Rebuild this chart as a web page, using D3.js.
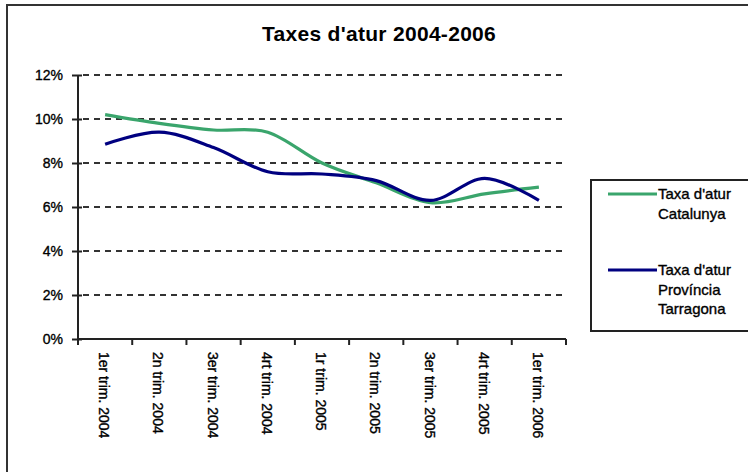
<!DOCTYPE html>
<html>
<head>
<meta charset="utf-8">
<script src="https://cdn.jsdelivr.net/npm/d3@7"></script>
<style>
  html, body { margin: 0; padding: 0; background: #fff; }
  svg { display: block; }
  text { font-family: "Liberation Sans", Arial, sans-serif; fill: #000; }
  text.lbl { stroke: #000; stroke-width: 0.35px; }
</style>
</head>
<body>
<svg id="chart" width="748" height="472"></svg>
<script>
const title = "Taxes d'atur 2004-2006";
const categories = ["1er trim. 2004", "2n trim. 2004", "3er trim. 2004", "4rt trim. 2004",
  "1r trim. 2005", "2n trim. 2005", "3er trim. 2005", "4rt trim. 2005", "1er trim. 2006"];
const catalunya = [10.2, 9.8, 9.5, 9.4, 8.0, 7.1, 6.2, 6.6, 6.9];
const tarragona = [8.85, 9.4, 8.7, 7.6, 7.5, 7.2, 6.3, 7.3, 6.3];
const yTicks = [0, 2, 4, 6, 8, 10, 12];
const seriesNames = [["Taxa d'atur", "Catalunya"], ["Taxa d'atur", "Província", "Tarragona"]];
const seriesColors = ["#3aa56c", "#000080"];

const svg = d3.select("#chart");

// outer frame
svg.append("rect").attr("x", 7).attr("y", 5).attr("width", 780).attr("height", 500)
  .attr("fill", "none").attr("stroke", "#333").attr("stroke-width", 2);

const x = d3.scaleBand().domain(categories).range([78, 566]).paddingInner(0).paddingOuter(0);
const y = d3.scaleLinear().domain([0, 12]).range([339, 75]);
const cx = d => x(d) + x.bandwidth() / 2;

// title
svg.append("text").attr("x", 379).attr("y", 41).attr("text-anchor", "middle")
  .style("font-size", "21px").style("font-weight", "bold").style("letter-spacing", "0.3px")
  .text(title);

// gridlines
svg.append("g").selectAll("line").data(yTicks.filter(t => t > 0)).join("line")
  .attr("x1", 83).attr("x2", 566)
  .attr("y1", d => y(d)).attr("y2", d => y(d))
  .attr("stroke", "#333").attr("stroke-width", 2).attr("stroke-dasharray", "6,5");

// y axis
const yAxis = d3.axisLeft(y).tickValues(yTicks).tickSize(0).tickFormat(d => d + "%");
const gy = svg.append("g").attr("transform", "translate(78,0)").call(yAxis);
gy.select(".domain").remove();
gy.selectAll("text").attr("x", -15).attr("dy", "0.35em").attr("class", "lbl")
  .style("font-size", "14px").style("font-family", "'Liberation Sans', Arial, sans-serif")
  .attr("fill", "#000");
gy.selectAll(".tick").append("line").attr("x1", -6).attr("x2", 4).attr("y1", 0).attr("y2", 0)
  .attr("stroke", "#222").attr("stroke-width", 2);
svg.append("line").attr("x1", 78).attr("x2", 78).attr("y1", 75).attr("y2", 340)
  .attr("stroke", "#222").attr("stroke-width", 2);

// x axis
svg.append("line").attr("x1", 77).attr("x2", 566).attr("y1", 339).attr("y2", 339)
  .attr("stroke", "#222").attr("stroke-width", 2);
const bounds = categories.map(c => x(c)).concat([x.range()[1]]);
svg.append("g").selectAll("line").data(bounds).join("line")
  .attr("x1", d => d).attr("x2", d => d).attr("y1", 339).attr("y2", 345)
  .attr("stroke", "#222").attr("stroke-width", 2);
svg.append("g").selectAll("text").data(categories).join("text")
  .attr("class", "lbl")
  .attr("transform", d => `translate(${cx(d) - 1},352) rotate(90)`)
  .attr("dy", "0.35em").attr("text-anchor", "start")
  .style("font-size", "14px")
  .text(d => d);

// lines
const line = d3.line().x((d, i) => cx(categories[i])).y(d => y(d)).curve(d3.curveCardinal.tension(0));
[catalunya, tarragona].forEach((s, i) => {
  svg.append("path").datum(s).attr("d", line).attr("fill", "none")
    .attr("stroke", seriesColors[i]).attr("stroke-width", 3.2).attr("stroke-linejoin", "round");
});

// legend
svg.append("rect").attr("x", 591).attr("y", 180).attr("width", 200).attr("height", 151)
  .attr("fill", "#fff").attr("stroke", "#222").attr("stroke-width", 2);
const legendY = [194, 270];
seriesNames.forEach((lines, i) => {
  svg.append("line").attr("x1", 608).attr("x2", 657).attr("y1", legendY[i]).attr("y2", legendY[i])
    .attr("stroke", seriesColors[i]).attr("stroke-width", 3);
  lines.forEach((t, j) => {
    svg.append("text").attr("class", "lbl").attr("x", 658).attr("y", legendY[i] + j * 19.5).attr("dy", "0.35em")
      .style("font-size", "15px").text(t);
  });
});
</script>
</body>
</html>
